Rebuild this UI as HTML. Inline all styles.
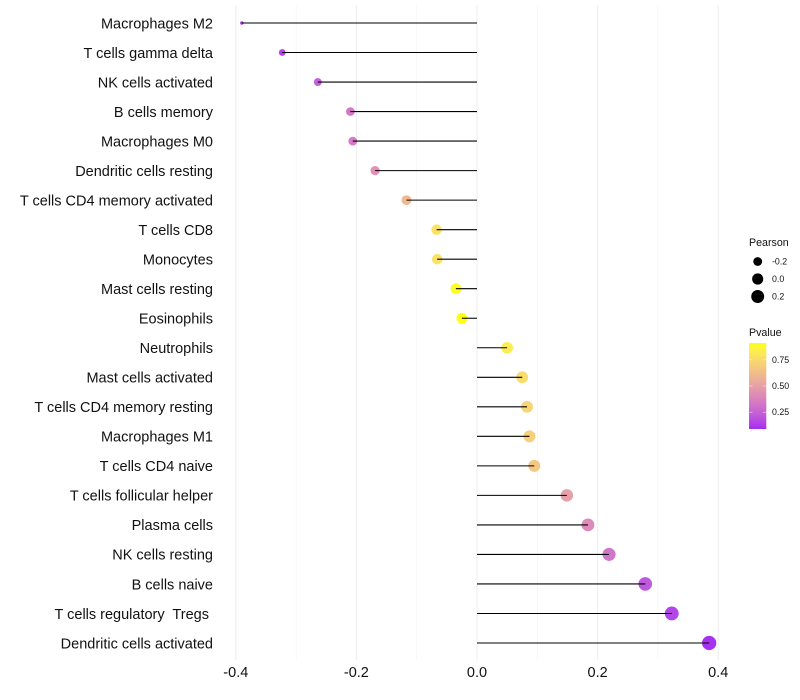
<!DOCTYPE html>
<html>
<head>
<meta charset="utf-8">
<title>Immune cell correlation lollipop chart</title>
<style>
html,body{margin:0;padding:0;background:#fff;}
#chart{display:block;width:800px;height:700px;font-family:"Liberation Sans",sans-serif;}
</style>
</head>
<body>
<svg id="chart" xmlns="http://www.w3.org/2000/svg" width="800" height="700" viewBox="0 0 800 700">
<defs>
<linearGradient id="pgrad" x1="0" y1="1" x2="0" y2="0"></linearGradient>
</defs>
</svg>
<script>
const categories = ["Macrophages M2","T cells gamma delta","NK cells activated","B cells memory","Macrophages M0","Dendritic cells resting","T cells CD4 memory activated","T cells CD8","Monocytes","Mast cells resting","Eosinophils","Neutrophils","Mast cells activated","T cells CD4 memory resting","Macrophages M1","T cells CD4 naive","T cells follicular helper","Plasma cells","NK cells resting","B cells naive","T cells regulatory  Tregs ","Dendritic cells activated"];
const pearson = [-0.39,-0.323,-0.264,-0.21,-0.206,-0.169,-0.117,-0.067,-0.066,-0.035,-0.025,0.05,0.075,0.083,0.087,0.095,0.149,0.184,0.219,0.279,0.323,0.385];
const pvalue = [0.10,0.13,0.23,0.32,0.33,0.43,0.60,0.78,0.78,0.90,0.91,0.83,0.76,0.72,0.70,0.66,0.49,0.40,0.31,0.20,0.14,0.09];
const xTicks = [-0.4,-0.2,0,0.2,0.4];
const xMinorTicks = [-0.3,-0.1,0.1,0.3];
const sizeLegend = [-0.2,0,0.2];
const colorLegend = [0.25,0.5,0.75];

const svg = document.getElementById('chart');
const NS = 'http://www.w3.org/2000/svg';
const xScale = v => 477 + v * 603;
const yScale = i => 23 + i * (620 / (categories.length - 1));
const pMin = Math.min(...pvalue), pMax = Math.max(...pvalue);
const prMin = Math.min(...pearson), prMax = Math.max(...pearson);
const pLegendY = p => 429 - (p - pMin) / (pMax - pMin) * 86;
const diameter = v => 3.5 + 10.8 * Math.sqrt((v - prMin) / (prMax - prMin));

function make(tag, attrs, parent) {
  const el = document.createElementNS(NS, tag);
  for (const k in attrs) el.setAttribute(k, attrs[k]);
  (parent || svg).appendChild(el);
  return el;
}
function rgb2lab(c) {
  const l = c.map(v => { v /= 255; return v > 0.04045 ? Math.pow((v + 0.055) / 1.055, 2.4) : v / 12.92; });
  const X = (0.4124 * l[0] + 0.3576 * l[1] + 0.1805 * l[2]) / 0.95047;
  const Y = 0.2126 * l[0] + 0.7152 * l[1] + 0.0722 * l[2];
  const Z = (0.0193 * l[0] + 0.1192 * l[1] + 0.9505 * l[2]) / 1.08883;
  const f = t => t > 0.008856 ? Math.cbrt(t) : 7.787 * t + 16 / 116;
  return [116 * f(Y) - 16, 500 * (f(X) - f(Y)), 200 * (f(Y) - f(Z))];
}
function lab2rgb(L) {
  const fy = (L[0] + 16) / 116, fx = fy + L[1] / 500, fz = fy - L[2] / 200;
  const g = t => t * t * t > 0.008856 ? t * t * t : (t - 16 / 116) / 7.787;
  const X = g(fx) * 0.95047, Y = g(fy), Z = g(fz) * 1.08883;
  const r = [3.2406 * X - 1.5372 * Y - 0.4986 * Z, -0.9689 * X + 1.8758 * Y + 0.0415 * Z, 0.0557 * X - 0.2040 * Y + 1.0570 * Z];
  return r.map(v => {
    v = v > 0.0031308 ? 1.055 * Math.pow(v, 1 / 2.4) - 0.055 : 12.92 * v;
    return Math.max(0, Math.min(255, Math.round(v * 255)));
  });
}
const labLow = rgb2lab([160, 32, 240]), labHigh = rgb2lab([255, 255, 0]);
function colorAt(t) {
  const c = lab2rgb(labLow.map((v, i) => v + (labHigh[i] - v) * t));
  return 'rgb(' + c.join(',') + ')';
}
const pColor = p => colorAt((p - pMin) / (pMax - pMin));

// grid
xMinorTicks.forEach(t => {
  const el = make('line', {x1: xScale(t), x2: xScale(t), y1: 5, y2: 660, stroke: '#f4f4f4', 'stroke-width': 0.6});
  
  
});
xTicks.forEach(t => {
  const el = make('line', {x1: xScale(t), x2: xScale(t), y1: 5, y2: 660, stroke: '#eeeeee', 'stroke-width': 1.07});
  
  
});

// points, then stems on top
categories.forEach((c, i) => {
  const pt = make('circle', {cx: xScale(pearson[i]), cy: yScale(i), r: diameter(pearson[i]) / 2, fill: pColor(pvalue[i]), 'fill-opacity': 0.92});
  
  
  const st = make('line', {x1: xScale(0), x2: xScale(pearson[i]), y1: yScale(i), y2: yScale(i), stroke: '#000', 'stroke-width': 1.07});
  
  
  const lb = make('text', {x: 213, y: yScale(i) + 5.3, 'text-anchor': 'end', 'font-size': 14.5, fill: '#111', style: 'white-space:pre'});
  lb.textContent = c;
  
  
});

// x tick labels
xTicks.forEach(t => {
  const el = make('text', {x: xScale(t), y: 677, 'text-anchor': 'middle', 'font-size': 14.5, fill: '#111'});
  el.textContent = t.toFixed(1);
  
  
});

// size legend
const pearsonTitle = make('text', {x: 749, y: 246, 'font-size': 10.67, fill: '#111'});
pearsonTitle.textContent = 'Pearson';


sizeLegend.forEach((v, i) => {
  const cy = 261.5 + i * 17.5;
  const dot = make('circle', {cx: 757.7, cy: cy, r: diameter(v) / 2, fill: '#000'});
  
  
  const tx = make('text', {x: 772, y: cy + 3, 'font-size': 8.8, fill: '#111'});
  tx.textContent = v === 0 ? '0.0' : String(v);
  
  
});

// colour legend
const pvalueTitle = make('text', {x: 749, y: 336, 'font-size': 10.67, fill: '#111'});
pvalueTitle.textContent = 'Pvalue';


const grad = document.getElementById('pgrad');
for (let s = 0; s <= 20; s++) {
  const stop = make('stop', {offset: (s * 5) + '%', 'stop-color': colorAt(s / 20), 'stop-opacity': 0.95}, grad);
}
const bar = make('rect', {x: 749, y: 343, width: 17.3, height: 86, fill: 'url(#pgrad)'});


colorLegend.forEach(v => {
  const y = pLegendY(v);
  const a = make('line', {x1: 749, x2: 752.5, y1: y, y2: y, stroke: '#fff', 'stroke-opacity': 0.7, 'stroke-width': 0.6});
  
  
  const b = make('line', {x1: 762.8, x2: 766.3, y1: y, y2: y, stroke: '#fff', 'stroke-opacity': 0.7, 'stroke-width': 0.6});
  
  
  const tx = make('text', {x: 772, y: y + 3, 'font-size': 8.8, fill: '#111'});
  tx.textContent = v.toFixed(2);
  
  
});
</script>
</body>
</html>
